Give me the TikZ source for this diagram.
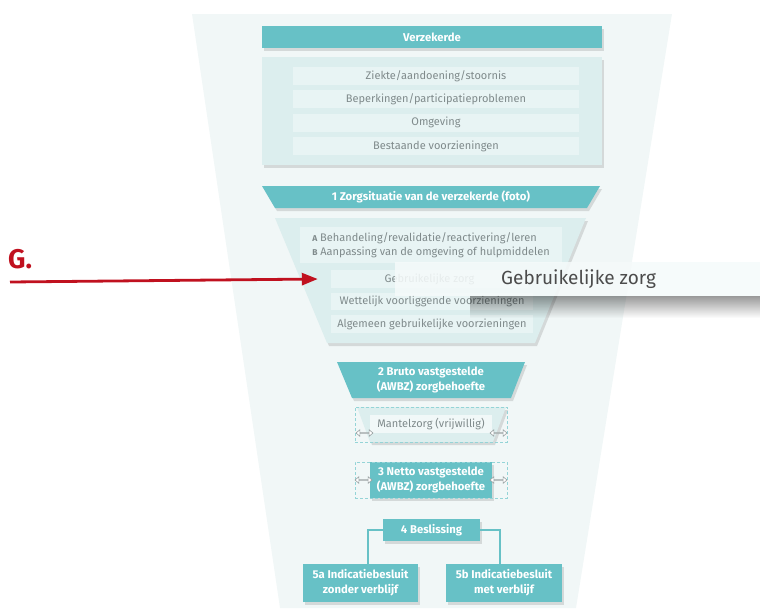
\documentclass[tikz,border=0pt]{standalone}
\usepackage{fontspec}
\setmainfont{Fira Sans}
\usetikzlibrary{shadows,arrows.meta,shapes.arrows,fadings}
\definecolor{tealc}{HTML}{67C1C6}
\definecolor{panelc}{HTML}{DCEEEE}
\definecolor{rowc}{HTML}{E8F4F4}
\definecolor{bgc}{HTML}{F1F7F7}
\definecolor{txtc}{HTML}{7F8A8B}
\definecolor{redc}{HTML}{C0111F}
\begin{document}
\begin{tikzpicture}[x=1pt, y=-1pt,
  shade/.style = {drop shadow={shadow xshift=2pt, shadow yshift=-3pt,
    opacity=.25, fill=black!50}},
  head/.style = {fill=tealc, text=white, inner sep=0pt, align=center,
    font=\bfseries\fontsize{11.3}{15}\selectfont},
  row/.style = {fill=rowc, text=txtc, inner sep=0pt,
    font=\fontsize{11}{14.5}\selectfont},
  boxline/.style = {draw=tealc!70, densely dashed, line width=.4pt},
  dbl/.style = {shape=double arrow, draw=txtc!80, fill=white, line width=.6pt,
    inner sep=0pt, minimum height=17pt, minimum width=6pt,
    double arrow head extend=3pt, double arrow tip angle=80},
  link/.style = {draw=tealc, line width=2pt}]
  \useasboundingbox (0,0) rectangle (760,608);
  \fill[bgc] (192,14) -- (672,14) -- (576,608) -- (280,608) -- cycle;
  \node[head, shade, minimum width=340pt, minimum height=22pt] (verz)
    at (432,37) {Verzekerde};
  \node[fill=panelc, shade, minimum width=340pt, minimum height=108pt] (pnl)
    at (432,111) {};
  \foreach \t [count=\i] in {Ziekte/aandoening/stoornis,
      Beperkingen/participatieproblemen, Omgeving, Bestaande voorzieningen}
    \node[row, minimum width=286pt, minimum height=18pt] (r\i)
      at (436,{76+23.3*(\i-1)}) {\t};
  \fill[tealc, shade] (262,186) -- (600,186) -- (587,208) -- (275,208) -- cycle;
  \node[head] (zorg) at (431,197) {1 Zorgsituatie van de verzekerde (foto)};
  \fill[panelc, shade] (275,218) -- (586,218) -- (535,343) -- (327,343) -- cycle;
  \node[row, minimum width=262pt, minimum height=36pt, align=left] (ab)
    at (431,245) {{\fontsize{8.5}{10}\selectfont\bfseries A} Behandeling/revalidatie/reactivering/leren\\
    {\fontsize{8.5}{10}\selectfont\bfseries B} Aanpassing van de omgeving of hulpmiddelen};
  \node[row, minimum width=197pt, minimum height=18pt] (geb)
    at (429.5,279) {Gebruikelijke zorg};
  \node[row, minimum width=202pt, minimum height=17pt] (wet)
    at (432,301.5) {Wettelijk voorliggende voorzieningen};
  \node[row, minimum width=202pt, minimum height=18pt] (alg)
    at (432,324) {Algemeen gebruikelijke voorzieningen};
  \fill[black, opacity=.4, path fading=south] (470,296) rectangle (760,318);
  \node[fill=white!55!rowc, fill opacity=.88, minimum width=380pt,
    minimum height=34pt, anchor=west] (popbox) at (395,279) {};
  \node[anchor=west, inner sep=0pt, text=black!70,
    font=\fontsize{19}{22}\selectfont] (poptxt) at (501,279) {Gebruikelijke zorg};
  \node[anchor=south west, inner sep=0pt, text=redc,
    font=\bfseries\fontsize{27}{30}\selectfont] (g) at (8,269) {G.};
  \coordinate (gs) at (10,282);
  \draw[redc, line width=2.8pt, -{Triangle[length=16pt,width=12pt]}]
    (gs) -- ([xshift=-13pt]geb.west);
  \fill[tealc, shade] (337,362) -- (525,362) -- (511,398) -- (352,398) -- cycle;
  \node[head] (bruto) at (431,380) {2 Bruto vastgestelde\\(AWBZ) zorgbehoefte};
  \fill[panelc, shade] (357,407) -- (506,407) -- (493,442) -- (370,442) -- cycle;
  \node[row, fill=white!40!rowc, minimum width=122pt, minimum height=18pt] (mant)
    at (431,424) {Mantelzorg (vrijwillig)};
  \node[boxline, minimum width=152pt, minimum height=35pt, inner sep=0pt] (mbox)
    at (431,424.5) {};
  \node[dbl] (ml) at (364.5,433) {};
  \node[dbl] (mr) at (498.5,433) {};
  \node[head, shade, minimum width=122pt, minimum height=36pt] (netto)
    at (431,480) {3 Netto vastgestelde\\(AWBZ) zorgbehoefte};
  \node[boxline, minimum width=152pt, minimum height=36pt, inner sep=0pt] (nbox)
    at (431,480) {};
  \node[dbl] (nl) at (363.5,480) {};
  \node[dbl] (nr) at (498.5,480) {};
  \node[head, shade, minimum width=97pt, minimum height=22pt] (besl)
    at (431.5,530) {4 Beslissing};
  \node[head, shade, minimum width=115pt, minimum height=38pt] (a5)
    at (360.5,583) {5a Indicatiebesluit\\zonder verblijf};
  \node[head, shade, minimum width=116pt, minimum height=38pt] (b5)
    at (504,583) {5b Indicatiebesluit\\met verblijf};
  \draw[link] (besl.west) -| ([xshift=7.5pt]a5.north);
  \draw[link] (besl.east) -| ([xshift=-4pt]b5.north);
\end{tikzpicture}
\end{document}
